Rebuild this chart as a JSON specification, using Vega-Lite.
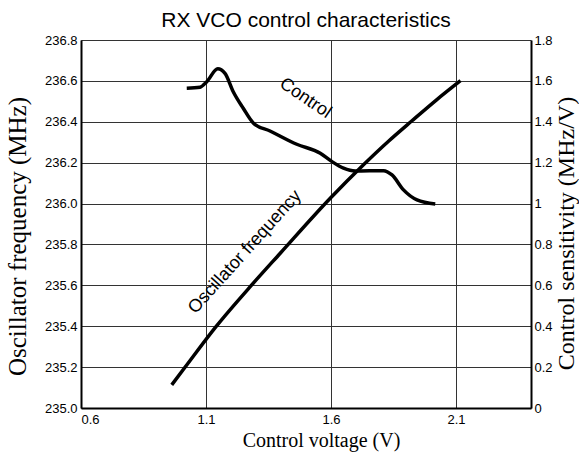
{
  "$schema": "https://vega.github.io/schema/vega-lite/v6.json",
  "width": 450,
  "height": 368,
  "autosize": "none",
  "padding": {"left": 81, "top": 40, "right": 48, "bottom": 44},
  "background": "white",
  "title": {"text": "RX VCO control characteristics", "font": "Liberation Sans", "fontSize": 21, "fontWeight": "normal", "color": "black", "offset": 3},
  "config": {
    "view": {"stroke": null},
    "axis": {"labelFont": "Liberation Sans", "labelFontSize": 13, "labelColor": "black", "titleFont": "Liberation Serif", "titleFontSize": 20, "titleFontWeight": "normal", "titleColor": "black", "ticks": false, "domainColor": "black", "domainWidth": 2, "gridColor": "#333333", "gridWidth": 1, "gridOpacity": 1}
  },
  "datasets": {
    "freq": [
      {"v": 0.963, "f": 235.113}, {"v": 1.016, "f": 235.199}, {"v": 1.14, "f": 235.398}, {"v": 1.283, "f": 235.602}, {"v": 1.397, "f": 235.757}, {"v": 1.597, "f": 236.026}, {"v": 1.73, "f": 236.19}, {"v": 1.83, "f": 236.305}, {"v": 1.924, "f": 236.405}, {"v": 2.02, "f": 236.505}, {"v": 2.118, "f": 236.601}
    ],
    "sens": [
      {"v": 1.023, "s": 1.564}, {"v": 1.076, "s": 1.569}, {"v": 1.103, "s": 1.596}, {"v": 1.147, "s": 1.659}, {"v": 1.176, "s": 1.637}, {"v": 1.209, "s": 1.547}, {"v": 1.249, "s": 1.466}, {"v": 1.29, "s": 1.393}, {"v": 1.356, "s": 1.355}, {"v": 1.463, "s": 1.29}, {"v": 1.557, "s": 1.246}, {"v": 1.604, "s": 1.205}, {"v": 1.65, "s": 1.173}, {"v": 1.697, "s": 1.159}, {"v": 1.81, "s": 1.161}, {"v": 1.844, "s": 1.14}, {"v": 1.89, "s": 1.067}, {"v": 1.944, "s": 1.018}, {"v": 2.017, "s": 0.998}
    ],
    "freqLabel": [{"v": 1.256, "f": 235.763, "label": "Oscillator frequency"}],
    "sensLabel": [{"v": 1.497, "s": 1.515, "label": "Control"}]
  },
  "layer": [
    {
      "layer": [
        {
          "data": {"name": "freq"},
          "mark": {"type": "line", "color": "black", "strokeWidth": 3.5, "interpolate": "monotone"},
          "encoding": {
            "x": {"field": "v", "type": "quantitative", "scale": {"domain": [0.6, 2.4], "nice": false, "zero": false},
              "axis": {"title": "Control voltage (V)", "values": [0.6, 1.1, 1.6, 2.1], "format": ".1f", "grid": true, "labelPadding": 5, "titlePadding": 4, "titleX": 240}},
            "y": {"field": "f", "type": "quantitative", "scale": {"domain": [235, 236.8], "nice": false, "zero": false},
              "axis": {"title": "Oscillator frequency (MHz)", "titleFontSize": 25, "orient": "left", "values": [235, 235.2, 235.4, 235.6, 235.8, 236, 236.2, 236.4, 236.6, 236.8], "format": ".1f", "grid": true, "labelPadding": 4, "titlePadding": 14, "titleY": 196}}
          }
        },
        {
          "data": {"name": "freqLabel"},
          "mark": {"type": "text", "font": "Liberation Sans", "fontSize": 18, "angle": -48, "align": "center", "baseline": "middle", "color": "black"},
          "encoding": {
            "x": {"field": "v", "type": "quantitative", "scale": {"domain": [0.6, 2.4], "nice": false, "zero": false}},
            "y": {"field": "f", "type": "quantitative", "scale": {"domain": [235, 236.8], "nice": false, "zero": false}},
            "text": {"field": "label"}
          }
        }
      ]
    },
    {
      "layer": [
        {
          "data": {"name": "sens"},
          "mark": {"type": "line", "color": "black", "strokeWidth": 3.5, "interpolate": "monotone"},
          "encoding": {
            "x": {"field": "v", "type": "quantitative", "scale": {"domain": [0.6, 2.4], "nice": false, "zero": false}},
            "y": {"field": "s", "type": "quantitative", "scale": {"domain": [0, 1.8], "nice": false, "zero": false},
              "axis": {"title": "Control sensitivity (MHz/V)", "titleFontSize": 24, "orient": "right", "values": [0, 0.2, 0.4, 0.6, 0.8, 1, 1.2, 1.4, 1.6, 1.8], "format": "~g", "grid": false, "labelPadding": 3, "titlePadding": 2, "titleAngle": 270, "titleBaseline": "top", "titleY": 193}}
          }
        },
        {
          "data": {"name": "sensLabel"},
          "mark": {"type": "text", "font": "Liberation Sans", "fontSize": 18, "angle": 34, "align": "center", "baseline": "middle", "color": "black"},
          "encoding": {
            "x": {"field": "v", "type": "quantitative", "scale": {"domain": [0.6, 2.4], "nice": false, "zero": false}},
            "y": {"field": "s", "type": "quantitative", "scale": {"domain": [0, 1.8], "nice": false, "zero": false}},
            "text": {"field": "label"}
          }
        }
      ]
    }
  ],
  "resolve": {"scale": {"y": "independent"}}
}
